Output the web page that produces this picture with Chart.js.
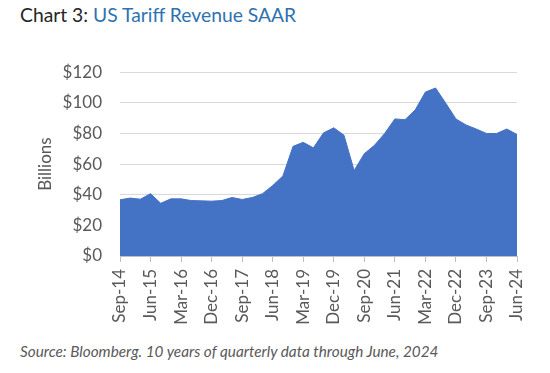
<!DOCTYPE html>
<html>
<head>
<meta charset="utf-8">
<script src="https://cdn.jsdelivr.net/npm/chart.js@4"></script>
<style>
  html, body { margin: 0; padding: 0; background: #fff; width: 550px; height: 373px; overflow: hidden; }
  #title { position: absolute; left: 20px; top: 3px; font-family: Lato, "Open Sans", sans-serif; font-size: 19.3px; color: #262626; }
  #title span { color: #2e72b0; }
  #wrap { position: absolute; left: 0; top: 44px; width: 550px; height: 292px; }
  #source { position: absolute; left: 20px; top: 342px; font-family: Lato, "Open Sans", sans-serif; font-style: italic; font-size: 15.3px; color: #595959; }
</style>
</head>
<body>
<div id="title">Chart 3: <span>US Tariff Revenue SAAR</span></div>
<div id="wrap"><canvas id="chart"></canvas></div>
<div id="source">Source: Bloomberg. 10 years of quarterly data through June, 2024</div>
<script>
// quarterly, Sep-14 .. Jun-24
const quarters = [];
const months = ['Mar', 'Jun', 'Sep', 'Dec'];
for (let y = 14; y <= 24; y++) {
  months.forEach(function(m, i) {
    if (y === 14 && i < 2) return;
    if (y === 24 && i > 1) return;
    quarters.push(m + '-' + y);
  });
}

// $ billions
const revenue = [
  36.7, 37.8, 37.1, 40.7, 34.4, 37.3, 37.3, 36.2, 36.0, 35.8,
  36.2, 38.2, 36.9, 38.2, 40.7, 46.0, 52.2, 71.6, 74.2, 70.6,
  80.4, 83.7, 78.9, 55.8, 66.8, 72.3, 80.0, 89.5, 89.0, 95.4,
  107.0, 109.7, 99.8, 89.5, 85.5, 82.9, 80.0, 80.0, 82.9, 79.3
];

const yTicks = [0, 20, 40, 60, 80, 100, 120];

const font = "Lato, 'Open Sans', sans-serif";

new Chart(document.getElementById('chart'), {
  type: 'line',
  data: {
    labels: quarters,
    datasets: [{
      data: revenue,
      fill: 'origin',
      backgroundColor: '#4472c4',
      borderColor: '#4472c4',
      borderWidth: 1,
      pointRadius: 0,
      tension: 0
    }]
  },
  options: {
    responsive: true,
    maintainAspectRatio: false,
    animation: false,
    layout: { padding: { top: 24, right: 33, left: 0, bottom: 0 } },
    plugins: { legend: { display: false }, tooltip: { enabled: false } },
    scales: {
      x: {
        offset: false,
        grid: { display: true, drawOnChartArea: false, drawTicks: true, tickLength: 6, color: '#bfbfbf' },
        border: { color: '#bfbfbf' },
        ticks: {
          autoSkip: false,
          maxRotation: 90,
          minRotation: 90,
          padding: 7,
          color: '#595959',
          font: { family: font, size: 17 },
          callback: function(v, i) { return i % 3 === 0 ? quarters[i] : null; }
        },
        afterFit: function(s) { s.height = 80; }
      },
      y: {
        min: 0,
        max: 120,
        afterBuildTicks: function(s) { s.ticks = yTicks.map(function(v) { return { value: v }; }); },
        grid: { color: '#d9d9d9', drawTicks: false },
        border: { display: false },
        ticks: {
          padding: 18,
          color: '#595959',
          font: { family: font, size: 17 },
          callback: function(v) { return '$' + v; }
        },
        title: {
          display: true,
          text: 'Billions',
          color: '#595959',
          font: { family: font, size: 17 },
          padding: { top: 35, bottom: 0 }
        },
        afterFit: function(s) { s.width = 120; }
      }
    }
  }
});
</script>
</body>
</html>
